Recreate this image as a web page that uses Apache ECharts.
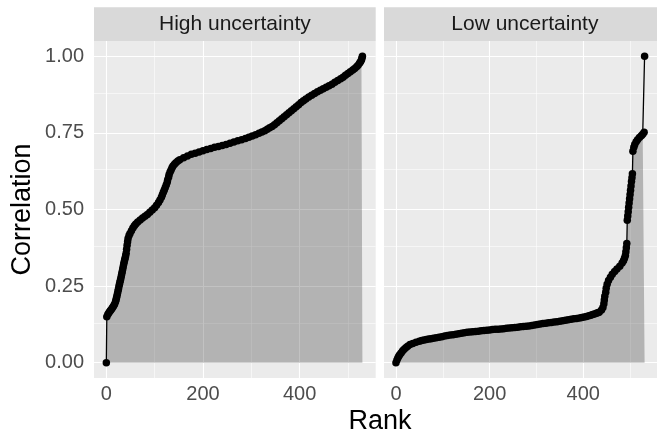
<!DOCTYPE html>
<html><head><meta charset="utf-8">
<script src="https://cdn.jsdelivr.net/npm/echarts@6/dist/echarts.min.js"></script>
<style>html,body{margin:0;padding:0;background:#fff}#c{width:657px;height:437px}</style>
</head><body><div id="c"></div><script>
// ---- data ----
const panels = ['High uncertainty', 'Low uncertainty'];
const xTicks = [0, 200, 400];
const xMinor = [100, 300, 500];
const yTicks = [0, 0.25, 0.5, 0.75, 1];
const yMinor = [0.125, 0.375, 0.625, 0.875];
const xTitle = 'Rank';
const yTitle = 'Correlation';

const highRanks = [0,1,3,5,7,9,11,13,15,17,19,20,21,22,23,24,25,26,27,28,29,30,31,32,33,34,35,36,37,38,39,40,41,42,43,44,45,47,49,52,55,58,61,65,70,75,80,85,90,95,100,104,108,111,114,116,118,120,122,124,126,127,129,130,132,134,136,138,141,144,148,152,160,168,176,184,192,200,208,216,224,232,240,248,256,264,272,280,288,295,302,309,316,322,328,333,338,343,348,353,358,363,368,373,378,383,388,393,398,403,408,413,419,425,431,437,443,449,455,461,467,473,479,485,490,495,500,505,510,514,518,521,524,526,528,529,530];
const highValues = [0.000,0.150,0.157,0.162,0.167,0.171,0.175,0.180,0.185,0.191,0.199,0.205,0.211,0.218,0.225,0.232,0.240,0.248,0.255,0.262,0.268,0.275,0.283,0.290,0.298,0.306,0.314,0.322,0.329,0.336,0.342,0.349,0.357,0.370,0.383,0.395,0.405,0.415,0.422,0.431,0.440,0.447,0.453,0.459,0.466,0.472,0.478,0.484,0.491,0.498,0.506,0.514,0.523,0.531,0.540,0.548,0.556,0.564,0.572,0.580,0.589,0.597,0.606,0.614,0.622,0.629,0.636,0.642,0.648,0.653,0.658,0.662,0.669,0.675,0.680,0.684,0.688,0.692,0.696,0.699,0.703,0.706,0.709,0.712,0.716,0.720,0.724,0.728,0.732,0.736,0.740,0.744,0.749,0.753,0.757,0.762,0.767,0.771,0.777,0.783,0.790,0.796,0.803,0.809,0.816,0.822,0.829,0.835,0.842,0.849,0.855,0.861,0.867,0.873,0.879,0.884,0.889,0.894,0.899,0.904,0.909,0.915,0.921,0.927,0.932,0.938,0.944,0.950,0.955,0.960,0.966,0.971,0.977,0.982,0.988,0.994,1.000];

const lowRanks = [0,2,4,6,8,11,14,17,21,25,30,36,43,50,55,60,65,70,75,80,86,92,98,104,110,116,122,128,134,140,146,152,158,164,170,176,182,188,194,200,206,212,218,224,230,236,242,248,254,260,266,272,278,284,290,296,302,308,314,320,326,332,338,344,350,356,362,368,374,380,386,392,397,402,407,412,416,420,424,428,431,434,439,442,444,445,446,448,449,451,454,458,462,467,472,478,483,486,488,490,491,492,493,494,495,496,497,498,499,500,501,502,503,504,505,506,508,510,513,516,520,524,527,530,531];
const lowValues = [0.000,0.008,0.015,0.021,0.026,0.032,0.038,0.043,0.049,0.054,0.059,0.063,0.067,0.070,0.072,0.074,0.0755,0.077,0.0785,0.080,0.0815,0.083,0.085,0.087,0.0885,0.090,0.0915,0.093,0.0945,0.096,0.0975,0.099,0.100,0.101,0.102,0.103,0.104,0.105,0.106,0.107,0.108,0.109,0.1095,0.110,0.111,0.112,0.113,0.114,0.115,0.116,0.117,0.118,0.119,0.120,0.1215,0.123,0.1245,0.126,0.1275,0.129,0.130,0.131,0.1325,0.134,0.1355,0.137,0.1385,0.140,0.1415,0.143,0.1445,0.146,0.1475,0.149,0.151,0.153,0.155,0.157,0.159,0.161,0.163,0.165,0.172,0.180,0.192,0.205,0.217,0.230,0.243,0.256,0.268,0.279,0.289,0.298,0.306,0.315,0.325,0.333,0.341,0.350,0.362,0.375,0.389,0.465,0.479,0.493,0.507,0.521,0.535,0.549,0.563,0.577,0.591,0.604,0.617,0.690,0.703,0.712,0.721,0.728,0.735,0.741,0.746,0.752,1.000];

// ---- layout ----
const FONT = "'Liberation Sans', Arial, Helvetica, sans-serif";
const PANEL_TOP = 41, PANEL_H = 337, PANEL_W = 281.7;
const PANEL_LEFT = [94, 384];
const STRIP_TOP = 7.3, STRIP_H = 33.7;
const X_MIN = -25.5, X_MAX = 557.5, Y_MIN = -0.05, Y_MAX = 1.05;

const chart = echarts.init(document.getElementById('c'), null, {renderer: 'canvas'});

function pts(r, v) { return r.map((x, i) => [x, v[i]]); }
function areaPts(r, v) {
  const p = pts(r, v);
  const n = p.length;
  p[n - 1] = [r[n - 1], v[n - 2]];
  return p;
}

const data = [pts(highRanks, highValues), pts(lowRanks, lowValues)];
const areas = [areaPts(highRanks, highValues), areaPts(lowRanks, lowValues)];

const grids = [], xAxes = [], yAxes = [], series = [], graphics = [];
panels.forEach((name, i) => {
  grids.push({left: PANEL_LEFT[i], top: PANEL_TOP, width: PANEL_W, height: PANEL_H,
    show: true, backgroundColor: '#EBEBEB', borderWidth: 0, containLabel: false});
  xAxes.push({type: 'value', gridIndex: i, min: X_MIN, max: X_MAX,
    axisLine: {show: false}, splitLine: {show: false},
    axisTick: {show: true, customValues: xTicks, length: 4, lineStyle: {color: '#333333', width: 1}},
    axisLabel: {show: true, customValues: xTicks, margin: 6, color: '#4D4D4D', fontSize: 20, fontFamily: FONT,
      formatter: v => String(v)}});
  yAxes.push({type: 'value', gridIndex: i, min: Y_MIN, max: Y_MAX,
    axisLine: {show: false}, splitLine: {show: false},
    axisTick: {show: i === 0, customValues: yTicks, length: 4, lineStyle: {color: '#333333', width: 1}},
    axisLabel: {show: i === 0, customValues: yTicks, margin: 10, color: '#4D4D4D', fontSize: 20, fontFamily: FONT,
      formatter: v => v.toFixed(2)}});
  const gl = [];
  xTicks.forEach(v => gl.push({xAxis: v, lineStyle: {width: 1.1}}));
  xMinor.forEach(v => gl.push({xAxis: v, lineStyle: {width: 0.55}}));
  yTicks.forEach(v => gl.push({yAxis: v, lineStyle: {width: 1.1}}));
  yMinor.forEach(v => gl.push({yAxis: v, lineStyle: {width: 0.55}}));
  series.push({type: 'line', xAxisIndex: i, yAxisIndex: i, z: 1, data: [[0, 0]], showSymbol: false,
    lineStyle: {opacity: 0}, silent: true,
    markLine: {z: 1, zlevel: 0, silent: true, symbol: ['none', 'none'], label: {show: false}, animation: false,
      lineStyle: {type: 'solid', color: '#FFFFFF', width: 1.1}, emphasis: {disabled: true}, data: gl}});
  series.push({type: 'line', xAxisIndex: i, yAxisIndex: i, z: 2, data: areas[i], showSymbol: false,
    lineStyle: {width: 0}, areaStyle: {color: '#000000', opacity: 0.24, origin: 0}, silent: true});
  series.push({type: 'line', xAxisIndex: i, yAxisIndex: i, z: 3, data: data[i], showSymbol: true,
    symbol: 'circle', symbolSize: 7.5, itemStyle: {color: '#000000', borderWidth: 0},
    lineStyle: {color: '#000000', width: 1.3}, silent: true});
  graphics.push({type: 'rect', shape: {x: PANEL_LEFT[i], y: STRIP_TOP, width: PANEL_W, height: STRIP_H},
    style: {fill: '#D9D9D9'}, silent: true});
  graphics.push({type: 'text', x: PANEL_LEFT[i] + PANEL_W / 2, y: STRIP_TOP + STRIP_H / 2,
    style: {text: name, fill: '#1A1A1A', font: '21px ' + FONT, align: 'center', verticalAlign: 'middle'}, silent: true});
});

graphics.push({type: 'text', x: 380, y: 422,
  style: {text: xTitle, fill: '#000000', font: '27px ' + FONT, align: 'center', verticalAlign: 'middle'}, silent: true});
graphics.push({type: 'text', x: 23, y: 209.5, rotation: Math.PI / 2,
  style: {text: yTitle, fill: '#000000', font: '27px ' + FONT, align: 'center', verticalAlign: 'middle'}, silent: true});

chart.setOption({
  backgroundColor: '#FFFFFF',
  animation: false,
  grid: grids, xAxis: xAxes, yAxis: yAxes, series: series, graphic: graphics
});
</script></body></html>
